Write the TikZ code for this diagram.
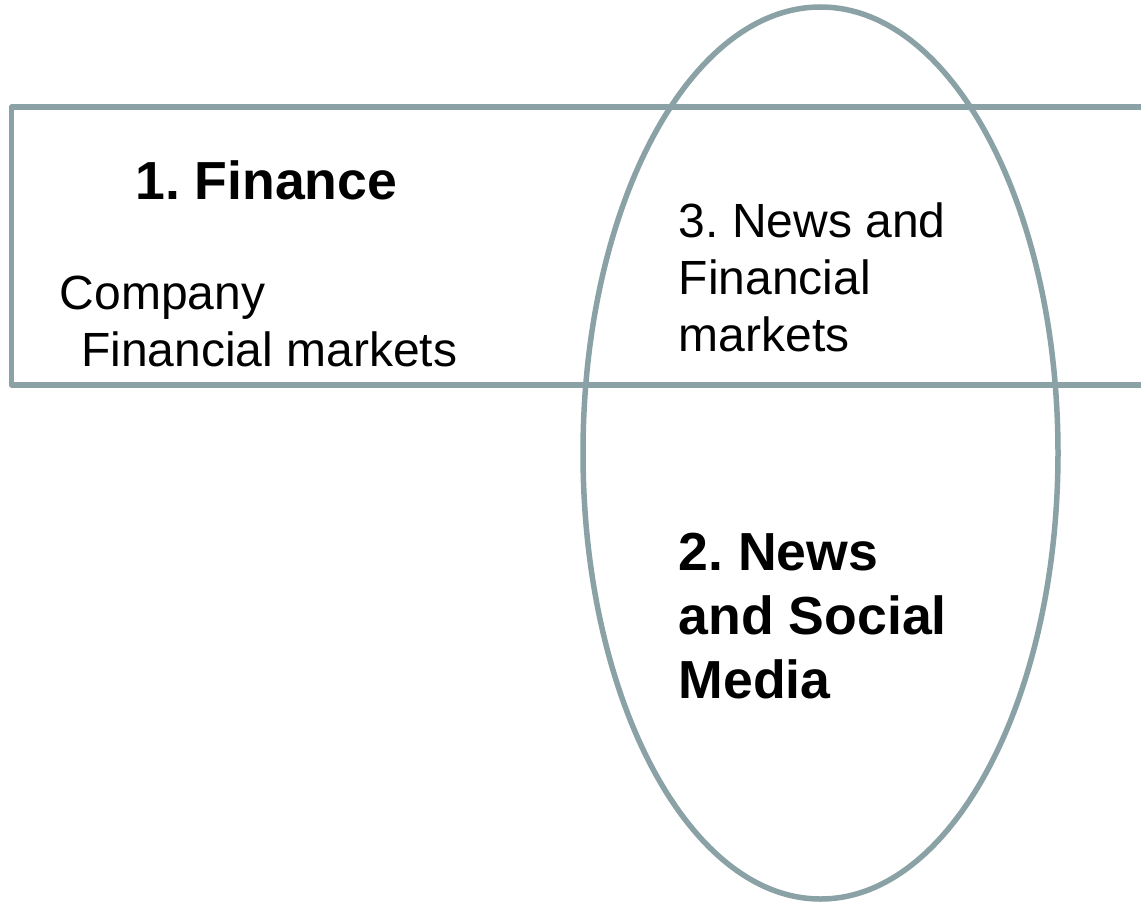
\documentclass[tikz,border=0pt]{standalone}
\usepackage{fontspec}
\setmainfont{Liberation Sans}
\usetikzlibrary{positioning}
\definecolor{venngrey}{RGB}{138,162,165}
\begin{document}
\frenchspacing
\begin{tikzpicture}[x=1pt,y=-1pt]
\tikzstyle{ring}=[draw=venngrey, line width=5.5pt]
\tikzstyle{plain}=[inner sep=0pt, align=left, anchor=base west, font=\fontsize{48}{57}\selectfont]
\tikzstyle{heading}=[inner sep=0pt, align=left, anchor=base west, font=\fontsize{53.6}{64}\selectfont\bfseries]

\useasboundingbox (0,0) rectangle (1141,902);

% finance band
\draw[style=ring, line join=round] (1150,107) -- (11.5,107) -- (11.5,385) -- (1150,385);

% news ellipse
\draw[style=ring] (820.5,453) ellipse [x radius=237.5, y radius=446];

% finance texts
\node(fin)[style=heading] at (135,199) {1. Finance};
\node(finsub)[style=plain] at (59.5,366) {Company\\\hspace*{21.5pt}Financial markets};

% overlap text
\node(both)[style=plain] at (678.5,351) {3. News and\\Financial\\markets};

% news text
\node(news)[style=heading] at (678.5,698) {2. News\\and Social\\Media};

\end{tikzpicture}
\end{document}
